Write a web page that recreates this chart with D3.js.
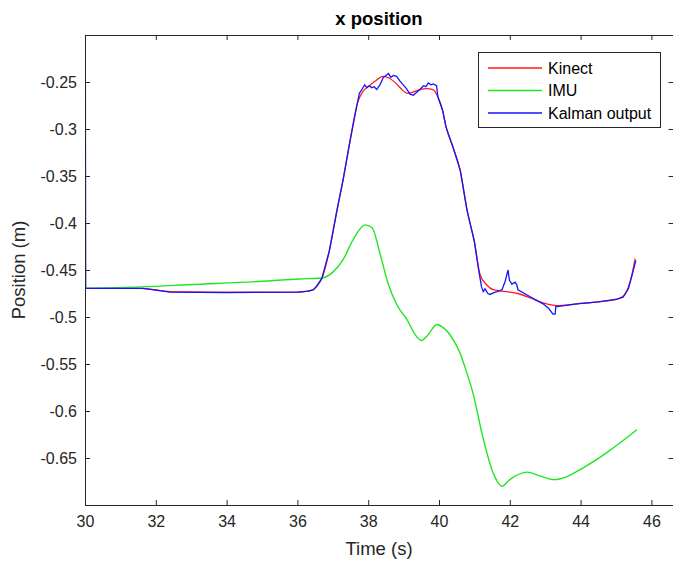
<!DOCTYPE html>
<html>
<head>
<meta charset="utf-8">
<script src="https://cdn.jsdelivr.net/npm/d3@7"></script>
<style>
  html, body { margin: 0; padding: 0; background: #fff; }
  svg { display: block; font-family: "Liberation Sans", Arial, sans-serif; }
</style>
</head>
<body>
<svg id="chart" width="673" height="562"></svg>
<script>
// ---------- data ----------
const seriesNames = ["Kinect", "IMU", "Kalman output"];

const kinectT = [30, 31.6, 32.4, 34, 36.0, 36.3, 36.45, 36.55, 36.69, 36.9, 37.12, 37.29, 37.5, 37.7, 37.85, 38.0, 38.2, 38.42, 38.6, 38.8, 38.95, 39.1, 39.25, 39.46, 39.65, 39.83, 39.97, 40.1, 40.2, 40.4, 40.6, 40.79, 41.0, 41.16, 41.35, 41.53, 41.9, 42.23, 42.6, 42.94, 43.33, 43.9, 44.5, 45.03, 45.2, 45.35, 45.45, 45.54];
const kinectV = [-0.4695, -0.4695, -0.473, -0.4735, -0.4735, -0.4725, -0.471, -0.467, -0.459, -0.43, -0.386, -0.354, -0.31, -0.272, -0.26, -0.255, -0.249, -0.244, -0.246, -0.252, -0.258, -0.262, -0.261, -0.258, -0.257, -0.258, -0.266, -0.28, -0.298, -0.32, -0.344, -0.386, -0.42, -0.455, -0.466, -0.471, -0.473, -0.475, -0.48, -0.485, -0.488, -0.486, -0.484, -0.481, -0.478, -0.468, -0.455, -0.438];

const imuT = [30, 31.6, 33, 35, 36.07, 36.69, 37.01, 37.29, 37.57, 37.91, 38.11, 38.33, 38.56, 38.81, 39.10, 39.33, 39.5, 39.67, 39.94, 40.11, 40.4, 40.59, 40.73, 40.96, 41.24, 41.53, 41.78, 42.0, 42.49, 42.85, 43.25, 43.6, 44.0, 44.75, 45.59];
const imuV = [-0.4695, -0.468, -0.4655, -0.462, -0.4595, -0.4585, -0.452, -0.439, -0.418, -0.402, -0.405, -0.432, -0.464, -0.487, -0.503, -0.519, -0.525, -0.52, -0.508, -0.511, -0.524, -0.538, -0.553, -0.581, -0.628, -0.666, -0.680, -0.673, -0.665, -0.669, -0.673, -0.670, -0.662, -0.644, -0.62];

const kalmanT = [30, 30.02, 31.0, 31.64, 32.0, 32.4, 34, 36.0, 36.3, 36.45, 36.55, 36.69, 36.9, 37.12, 37.29, 37.5, 37.68, 37.75, 37.82, 37.9, 37.96, 38.03, 38.1, 38.17, 38.24, 38.33, 38.43, 38.5, 38.57, 38.64, 38.71, 38.8, 38.9, 38.99, 39.08, 39.18, 39.28, 39.37, 39.46, 39.56, 39.63, 39.7, 39.77, 39.84, 39.93, 39.97, 40.1, 40.2, 40.4, 40.6, 40.79, 41.0, 41.12, 41.2, 41.25, 41.3, 41.38, 41.44, 41.55, 41.64, 41.78, 41.87, 41.95, 41.99, 42.06, 42.15, 42.2, 42.23, 42.6, 42.94, 43.1, 43.22, 43.28, 43.3, 43.33, 43.9, 44.5, 45.03, 45.2, 45.35, 45.45, 45.56];
const kalmanV = [0, -0.4695, -0.4695, -0.4695, -0.4715, -0.4735, -0.474, -0.4735, -0.4725, -0.471, -0.467, -0.459, -0.43, -0.386, -0.354, -0.31, -0.275, -0.262, -0.258, -0.253, -0.256, -0.254, -0.256, -0.255, -0.258, -0.253, -0.245, -0.243, -0.241, -0.245, -0.243, -0.244, -0.249, -0.253, -0.257, -0.263, -0.264, -0.261, -0.258, -0.254, -0.255, -0.251, -0.253, -0.252, -0.254, -0.266, -0.28, -0.298, -0.32, -0.344, -0.386, -0.42, -0.45, -0.468, -0.473, -0.47, -0.475, -0.476, -0.474, -0.473, -0.471, -0.462, -0.45, -0.461, -0.465, -0.463, -0.466, -0.471, -0.479, -0.486, -0.491, -0.497, -0.497, -0.489, -0.489, -0.486, -0.484, -0.481, -0.479, -0.47, -0.456, -0.44];

const xTicks = [30, 32, 34, 36, 38, 40, 42, 44, 46];
const yTicks = [-0.65, -0.6, -0.55, -0.5, -0.45, -0.4, -0.35, -0.3, -0.25];
const xDomain = [30, 46.624];
const yDomain = [-0.7, -0.2];

// ---------- layout ----------
const L = 85, R = 673.5, T = 35, B = 505;
const colors = ["#ff1a1a", "#1ee61e", "#1414ff"];
const axisColor = "#262626";

const svg = d3.select("#chart");
const x = d3.scaleLinear().domain(xDomain).range([L, R]);
const y = d3.scaleLinear().domain(yDomain).range([B, T]);

svg.append("defs").append("clipPath").attr("id", "clip")
  .append("rect").attr("x", L).attr("y", T).attr("width", R - L).attr("height", B - T);

// data lines
const mk = (ts, vs) => ts.map((t, i) => [t, vs[i]]);
const smooth = d3.line().x(d => x(d[0])).y(d => y(d[1])).curve(d3.curveMonotoneX);
const straight = d3.line().x(d => x(d[0])).y(d => y(d[1]));

const g = svg.append("g").attr("clip-path", "url(#clip)");
g.append("path").attr("d", smooth(mk(kinectT, kinectV)))
  .attr("fill", "none").attr("stroke", colors[0]).attr("stroke-width", 1.3);
g.append("path").attr("d", smooth(mk(imuT, imuV)))
  .attr("fill", "none").attr("stroke", colors[1]).attr("stroke-width", 1.4);
g.append("path").attr("d", straight(mk(kalmanT, kalmanV)))
  .attr("fill", "none").attr("stroke", colors[2]).attr("stroke-width", 1.3);

// axes
function styleAxis(sel) {
  sel.select(".domain").remove();
  sel.selectAll(".tick line").attr("stroke", axisColor);
  sel.selectAll(".tick text").attr("fill", axisColor).attr("font-size", 16)
    .attr("font-family", "Liberation Sans, Arial, sans-serif");
}
svg.append("g").attr("transform", `translate(0,${B})`)
  .call(d3.axisBottom(x).tickValues(xTicks).tickSizeInner(-5).tickSizeOuter(0).tickPadding(11).tickFormat(d3.format("d")))
  .call(styleAxis);
svg.append("g").attr("transform", `translate(0,${T})`)
  .call(d3.axisTop(x).tickValues(xTicks).tickSizeInner(-5).tickSizeOuter(0).tickFormat(""))
  .call(styleAxis);
svg.append("g").attr("transform", `translate(${L},0)`)
  .call(d3.axisLeft(y).tickValues(yTicks).tickSizeInner(-5).tickSizeOuter(0).tickPadding(8).tickFormat(d => String(+d.toFixed(2))))
  .call(styleAxis);
svg.append("g").attr("transform", `translate(${R},0)`)
  .call(d3.axisLeft(y).tickValues(yTicks).tickSizeInner(5).tickSizeOuter(0).tickFormat(""))
  .call(styleAxis);

// box
svg.append("rect").attr("x", L + 0.5).attr("y", T + 0.5)
  .attr("width", R - L).attr("height", B - T)
  .attr("fill", "none").attr("stroke", axisColor).attr("stroke-width", 1);

// title & labels
svg.append("text").attr("x", (L + 673) / 2).attr("y", 25).attr("text-anchor", "middle")
  .attr("font-size", 18.5).attr("font-weight", "bold").attr("fill", "#000").text("x position");
svg.append("text").attr("x", (L + 673) / 2).attr("y", 555).attr("text-anchor", "middle")
  .attr("font-size", 18.5).attr("fill", axisColor).text("Time (s)");
svg.append("text").attr("transform", `translate(25,${(T + B) / 2}) rotate(-90)`)
  .attr("text-anchor", "middle").attr("font-size", 18.5).attr("fill", axisColor).text("Position (m)");

// legend
const lg = svg.append("g");
lg.append("rect").attr("x", 478.5).attr("y", 52.5).attr("width", 182).attr("height", 75)
  .attr("fill", "#fff").attr("stroke", axisColor).attr("stroke-width", 1);
seriesNames.forEach((name, i) => {
  const yy = 68 + i * 22.5;
  lg.append("line").attr("x1", 488).attr("x2", 542).attr("y1", yy).attr("y2", yy)
    .attr("stroke", colors[i]).attr("stroke-width", 1.3);
  lg.append("text").attr("x", 548).attr("y", yy).attr("dy", "0.35em")
    .attr("font-size", 16).attr("fill", "#000").text(name);
});
</script>
</body>
</html>
